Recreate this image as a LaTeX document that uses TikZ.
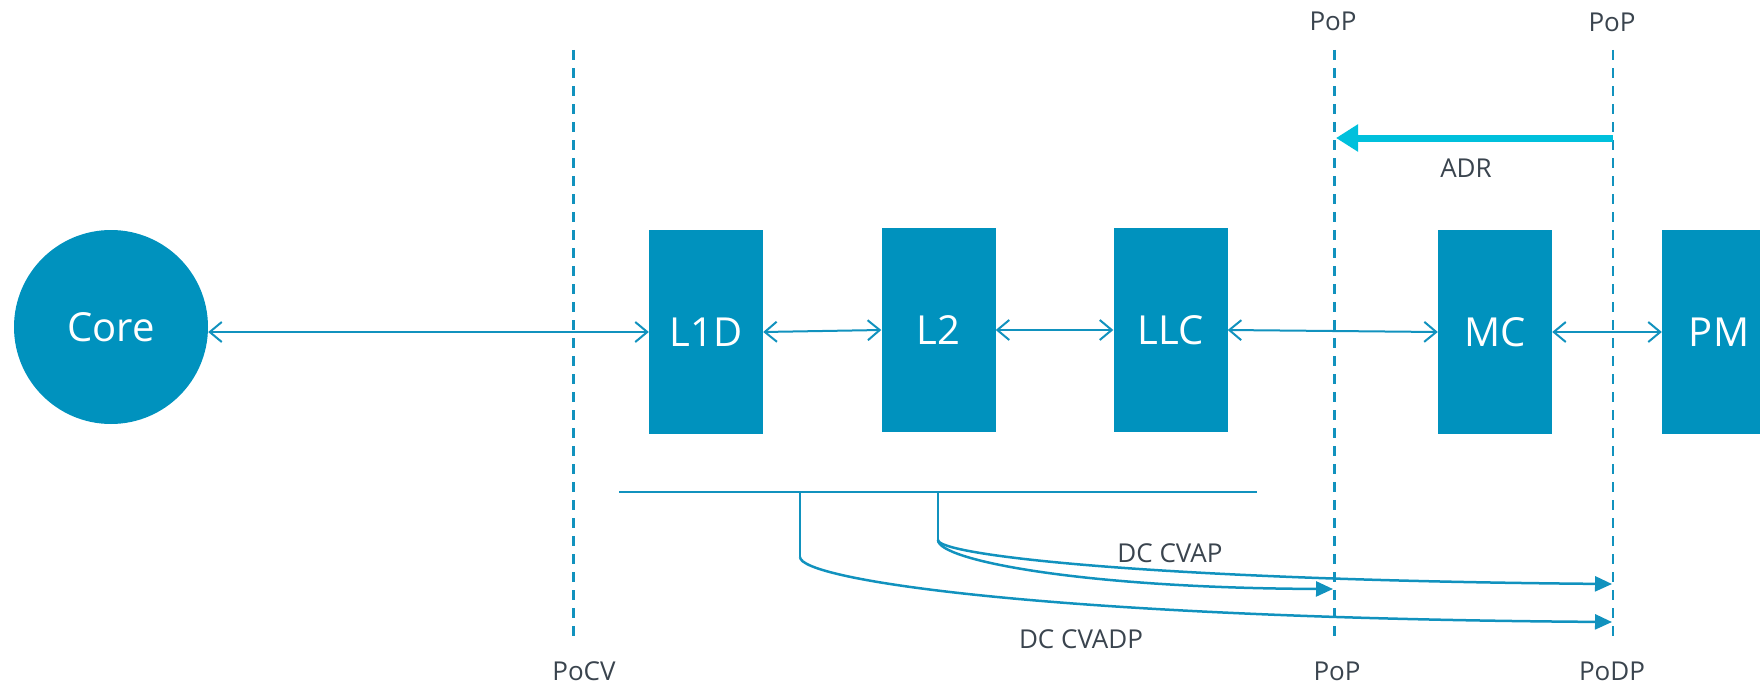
\documentclass[tikz,border=0pt]{standalone}
\usepackage{fontspec}
\setmainfont{Open Sans}
\usetikzlibrary{arrows.meta}
\definecolor{boxblue}{HTML}{0092BE}
\definecolor{lineblue}{HTML}{1192BE}
\definecolor{adrcyan}{HTML}{00C0DC}
\definecolor{labelgray}{HTML}{3A444E}
\begin{document}
\begin{tikzpicture}[x=1pt, y=-1pt,
  unit/.style={fill=boxblue, text=white, minimum width=114pt, minimum height=204pt,
    inner sep=0pt, font=\fontsize{40}{48}\selectfont},
  corenode/.style={circle, fill=boxblue, text=white, minimum size=194pt, inner sep=0pt,
    font=\fontsize{40}{48}\selectfont},
  tag/.style={text=labelgray, inner sep=0pt, font=\fontsize{26}{31}\selectfont},
  boundary/.style={draw=lineblue, line width=2.2pt, dash pattern=on 10pt off 8pt},
  link/.style={draw=lineblue, line width=2pt,
    {Straight Barb[length=12pt, width=20pt, line width=2pt]}-{Straight Barb[length=12pt, width=20pt, line width=2pt]}},
  flush/.style={draw=lineblue, line width=2.5pt, -{Triangle[length=17pt, width=15pt]}},
  adr/.style={draw=adrcyan, line width=7pt, -{Triangle[length=22pt, width=26pt]}}
]
\useasboundingbox (0,0) rectangle (1760,685);

% memory hierarchy units
\node[corenode] (core) at (111,327) {Core};
\node[unit] (l1d) at (706,332) {L1D};
\node[unit] (l2)  at (938.5,330) {L2};
\node[unit] (llc) at (1170.5,330) {LLC};
\node[unit] (mc)  at (1495,332) {MC};
\node[unit] (pm)  at (1719,332) {PM};

% points of coherence / persistence
\coordinate (pocvT) at (573.5,50);   \coordinate (pocvB) at (573.5,640);
\coordinate (popT)  at (1334.5,50);  \coordinate (popB)  at (1334.5,640);
\coordinate (podpT) at (1613,50);    \coordinate (podpB) at (1613,640);
\draw[boundary] (pocvT) -- (pocvB);
\draw[boundary] (popT) -- (popB);
\draw[boundary] (podpT) -- (podpB);

\node[tag] (popTopA) at (1333,21) {PoP};
\node[tag] (popTopB) at (1612,22) {PoP};
\node[tag] (pocvLbl) at (584,671) {PoCV};
\node[tag] (popBot)  at (1337,671) {PoP};
\node[tag] (podpBot) at (1612,671) {PoDP};

% ADR arrow between the two persistence points
\coordinate (adrS) at (1613,138);
\coordinate (adrE) at (1336,138);
\draw[adr] (adrS) -- (adrE);
\node[tag] (adrLbl) at (1466,168) {ADR};

% data paths
\draw[link] (l1d.west -| core.east) -- (l1d.west);
\draw[link] (l1d.east) -- (l2.west);
\draw[link] (l2.east) -- (llc.west);
\draw[link] (llc.east) -- (mc.west);
\draw[link] (mc.east) -- (pm.west);

% cache maintenance operations
\coordinate (busL) at (619,492);
\coordinate (busR) at (1257,492);
\coordinate (tapA) at (800,492);
\coordinate (tapB) at (938,492);
\coordinate (bendA) at (800,557);
\coordinate (bendB) at (938,540);
\coordinate (endAdp) at (1612,622);
\coordinate (endAp) at (1612,584);
\coordinate (endPop) at (1333,589);
\draw[draw=lineblue, line width=2.5pt] (busL) -- (busR);
\draw[draw=lineblue, line width=2pt] (tapA) -- (bendA);
\draw[draw=lineblue, line width=2pt] (tapB) -- (bendB);
\draw[flush] (bendA) .. controls (800,580) and (1050,618) .. (endAdp);
\draw[flush] (bendB) .. controls (938,555) and (1150,580) .. (endAp);
\draw[flush] (bendB) .. controls (938,560) and (1080,588) .. (endPop);

\node[tag] (cvapLbl)  at (1170,553) {DC CVAP};
\node[tag] (cvadpLbl) at (1081,639) {DC CVADP};
\end{tikzpicture}
\end{document}
